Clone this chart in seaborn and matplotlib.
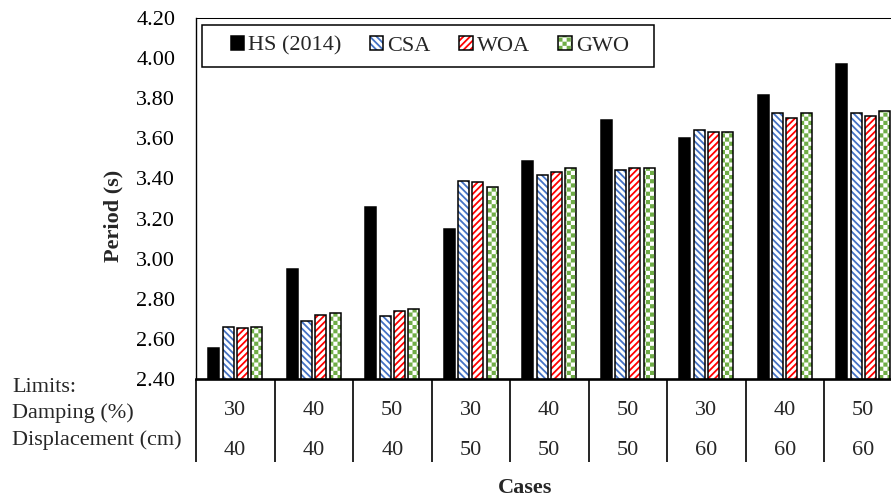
import warnings

import numpy as np
import pandas as pd
import matplotlib
matplotlib.use("Agg")
import matplotlib.pyplot as plt
from matplotlib import hatch as mhatch
from matplotlib.path import Path
from matplotlib.patches import Patch, Rectangle
import seaborn as sns

warnings.filterwarnings("ignore", message=".*hatch.*")

# ---- data -------------------------------------------------------------
damping = [30, 40, 50, 30, 40, 50, 30, 40, 50]          # %
displacement = [40, 40, 40, 50, 50, 50, 60, 60, 60]     # cm
cases = [f"{d}/{s}" for d, s in zip(damping, displacement)]

methods = ["HS (2014)", "CSA", "WOA", "GWO"]
hs_2014 = [2.555, 2.950, 3.260, 3.150, 3.485, 3.690, 3.600, 3.815, 3.973]
csa = [2.661, 2.691, 2.716, 3.389, 3.417, 3.442, 3.642, 3.727, 3.727]
woa = [2.656, 2.719, 2.739, 3.384, 3.432, 3.451, 3.634, 3.700, 3.713]
gwo = [2.661, 2.728, 2.751, 3.359, 3.451, 3.451, 3.633, 3.728, 3.738]

y_ticks = [2.40, 2.60, 2.80, 3.00, 3.20, 3.40, 3.60, 3.80, 4.00, 4.20]

df = pd.DataFrame({
    "Case": cases * len(methods),
    "Method": np.repeat(methods, len(cases)),
    "Period": hs_2014 + csa + woa + gwo,
})

# ---- styles -----------------------------------------------------------
HATCH_LW = 1.3
DPI = 100


class CheckerHatch(mhatch.HatchPatternBase):
    """Filled checkerboard squares, selected with the '#' hatch character."""

    def __init__(self, hatch, density):
        self.num_cells = hatch.count("#") * density
        n = self.num_cells
        self.num_vertices = 5 * ((n * n + 1) // 2) if n else 0

    def set_vertices_and_codes(self, vertices, codes):
        n = self.num_cells
        s = 1.0 / n
        # the hatch outline is stroked too, so shrink the squares by half a line
        half = HATCH_LW * DPI / 72.0 / 100.0 / 2.0
        k = 0
        for i in range(n):
            for j in range(n):
                if (i + j) % 2 == 0:
                    x0, y0 = i * s + half, j * s + half
                    x1, y1 = (i + 1) * s - half, (j + 1) * s - half
                    vertices[k:k + 5] = [(x0, y0), (x1, y0), (x1, y1), (x0, y1), (x0, y0)]
                    codes[k:k + 5] = [Path.MOVETO, Path.LINETO, Path.LINETO,
                                      Path.LINETO, Path.CLOSEPOLY]
                    k += 5


mhatch._hatch_types.append(CheckerHatch)

sns.set_theme(style="white")
plt.rcParams["font.family"] = ["Liberation Serif", "DejaVu Serif"]
plt.rcParams["hatch.linewidth"] = HATCH_LW
plt.rcParams["axes.edgecolor"] = "black"

faces = ["black", "white", "white", "white"]
pattern_colors = ["black", "#4472C4", "#FF0000", "#70AD47"]
hatches = [None, "\\" * 5, "/" * 5, "####"]
FS = 16

fig = plt.figure(figsize=(8.91, 4.99), dpi=DPI)
ax = fig.add_axes([196 / 891, 1 - 379 / 499, 706.5 / 891, 361 / 499])

bar_kw = dict(data=df, x="Case", y="Period", hue="Method", order=cases,
              hue_order=methods, width=0.737, gap=0.24, errorbar=None,
              legend=False, ax=ax)

# filled / hatched bars
sns.barplot(palette=pattern_colors, **bar_kw)
fill_containers = list(ax.containers)
for cont, fc, pc, h in zip(fill_containers, faces, pattern_colors, hatches):
    for bar in cont:
        bar.set_facecolor(fc)
        bar.set_edgecolor(pc)
        bar.set_linewidth(0)
        bar.set_hatch(h)

# black outlines on top
sns.barplot(palette=["black"] * 4, fill=False, **bar_kw)
for cont in ax.containers[len(fill_containers):]:
    for bar in cont:
        bar.set_facecolor("none")
        bar.set_edgecolor("black")
        bar.set_linewidth(1.1)
        bar.set_hatch(None)

# ---- axes -------------------------------------------------------------
ax.set_xlim(-0.5, len(cases) - 0.5)
ax.set_ylim(2.4, 4.2)
ax.set_yticks(y_ticks)
ax.set_yticklabels([f"{v:.2f}" for v in y_ticks], fontsize=FS)
ax.tick_params(axis="y", length=0, pad=15, colors="black")
ax.tick_params(axis="x", length=0, labelbottom=False)
ax.set_xlabel("")
ax.set_ylabel("")
ax.grid(False)
ax.spines["right"].set_visible(False)
ax.spines["top"].set_linewidth(0.75)
ax.spines["left"].set_linewidth(1.0)
ax.spines["bottom"].set_linewidth(1.9)
for sp in ax.spines.values():
    sp.set_color("black")

# ---- case table under the axis ---------------------------------------
xt = ax.get_xaxis_transform()
ax.vlines(np.arange(-0.5, len(cases) + 0.5, 1.0), -0.23, 0, transform=xt,
          colors="black", linewidth=1.2, clip_on=False)
for i, (d, s) in enumerate(zip(damping, displacement)):
    ax.text(i, (379 - 415) / 361, str(d), transform=xt, ha="center",
            va="baseline", fontsize=FS)
    ax.text(i, (379 - 455) / 361, str(s), transform=xt, ha="center",
            va="baseline", fontsize=FS)

for label, ypix in [("Limits:", 391.5), ("Damping (%)", 418), ("Displacement (cm)", 445)]:
    fig.text(12 / 891, 1 - ypix / 499, label, ha="left", va="baseline", fontsize=FS)

fig.text(113 / 891, 1 - 216 / 499, "Period (s)", rotation=90, ha="center",
         va="center", fontsize=FS, fontweight="bold")
fig.text(525 / 891, 1 - 488 / 499, "Cases", ha="center", va="center",
         fontsize=FS, fontweight="bold")

# ---- legend -----------------------------------------------------------
ax.add_patch(Rectangle((202 / 891, 1 - 67 / 499), (654 - 202) / 891, 42 / 499,
                       transform=fig.transFigure, facecolor="white",
                       edgecolor="black", linewidth=1.1, clip_on=False, zorder=4))
handles = []
for fc, pc, h in zip(faces, pattern_colors, hatches):
    handles.append((Patch(facecolor=fc, edgecolor=pc, linewidth=0, hatch=h),
                    Patch(facecolor="none", edgecolor="black", linewidth=1.1)))
leg = ax.legend(handles, methods, loc="center left",
                bbox_to_anchor=(230.5 / 891, 1 - 46 / 499),
                bbox_transform=fig.transFigure, ncol=4, frameon=False,
                borderpad=0, borderaxespad=0, handlelength=0.61,
                handleheight=0.61, handletextpad=0.17, columnspacing=1.29,
                fontsize=FS)
leg.set_zorder(5)

fig.savefig("out.png", dpi=DPI)
